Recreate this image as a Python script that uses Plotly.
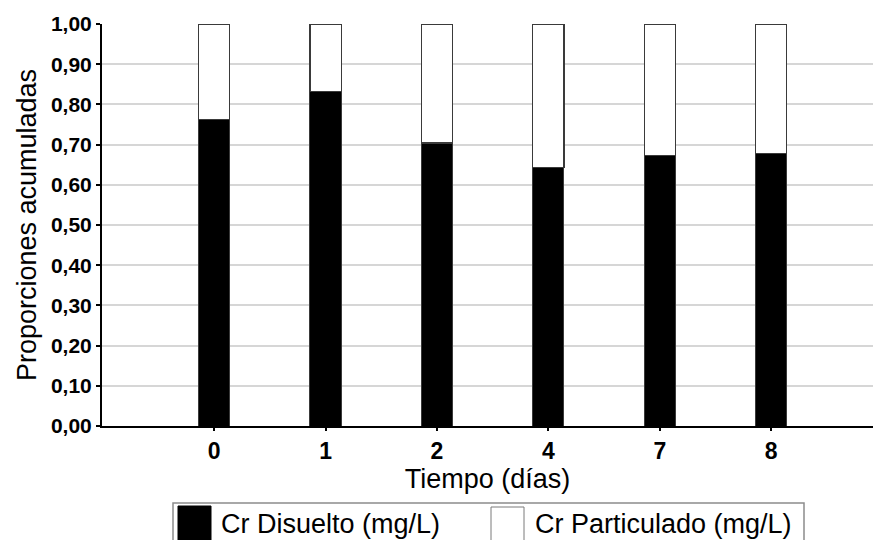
import plotly.graph_objects as go

# Data: cumulative proportions of dissolved vs particulate Cr over time
dias = ["0", "1", "2", "4", "7", "8"]
cr_disuelto = [0.763, 0.832, 0.704, 0.644, 0.672, 0.677]
cr_particulado = [round(1 - v, 3) for v in cr_disuelto]
y_ticks = [i / 10 for i in range(11)]

W, H = 873, 540
ML, MR, MT, MB = 102, 0, 24, 114
PW, PH = W - ML - MR, H - MT - MB

FONT = "Liberation Sans, Arial, sans-serif"


def px_x(x):
    return (x - ML) / PW


def px_y(y):
    return (H - MB - y) / PH


fig = go.Figure()
fig.add_trace(go.Bar(
    x=dias, y=cr_disuelto, name="Cr Disuelto (mg/L)",
    marker=dict(color="black", line=dict(color="#3a3a3a", width=1)),
    width=0.28, showlegend=False,
))
fig.add_trace(go.Bar(
    x=dias, y=cr_particulado, name="Cr Particulado (mg/L)",
    marker=dict(color="white", line=dict(color="#3a3a3a", width=1.2)),
    width=0.28, showlegend=False,
))

# Legend box drawn below the plot
shapes = [
    dict(type="rect", xref="paper", yref="paper",
         x0=px_x(173), x1=px_x(804), y0=px_y(503), y1=px_y(548),
         line=dict(color="#8c8c8c", width=1.5), fillcolor="white", layer="above"),
    dict(type="rect", xref="paper", yref="paper",
         x0=px_x(178), x1=px_x(211), y0=px_y(506), y1=px_y(548),
         line=dict(color="black", width=1), fillcolor="black", layer="above"),
    dict(type="rect", xref="paper", yref="paper",
         x0=px_x(491), x1=px_x(524), y0=px_y(507), y1=px_y(548),
         line=dict(color="#7a7a7a", width=1), fillcolor="white", layer="above"),
]
annotations = [
    dict(text="Cr Disuelto (mg/L)", xref="paper", yref="paper",
         x=px_x(219), y=px_y(524), xanchor="left", yanchor="middle",
         showarrow=False, font=dict(family=FONT, size=27, color="black")),
    dict(text="Cr Particulado (mg/L)", xref="paper", yref="paper",
         x=px_x(533), y=px_y(524), xanchor="left", yanchor="middle",
         showarrow=False, font=dict(family=FONT, size=27, color="black")),
]

fig.update_layout(
    barmode="stack",
    width=W, height=H,
    margin=dict(l=ML, r=MR, t=MT, b=MB, pad=0),
    paper_bgcolor="white", plot_bgcolor="white",
    separators=",.",
    font=dict(family=FONT, color="black"),
    shapes=shapes,
    annotations=annotations,
    xaxis=dict(
        type="category", range=[-1.007, 5.914],
        showline=True, linecolor="black", linewidth=2,
        ticks="outside", ticklen=3, tickcolor="black", tickwidth=1.5,
        tickfont=dict(family=FONT, size=23, color="black", weight="bold"),
        title=dict(text="Tiempo (días)", font=dict(family=FONT, size=27), standoff=0),
        showgrid=False, zeroline=False,
    ),
    yaxis=dict(
        range=[0, 1.0], tickvals=y_ticks, tickformat=".2f",
        showline=True, linecolor="black", linewidth=2,
        ticks="outside", ticklen=4, tickcolor="black", tickwidth=1.5,
        tickfont=dict(family=FONT, size=21, color="black", weight="bold"),
        title=dict(text="Proporciones acumuladas", font=dict(family=FONT, size=27), standoff=6),
        showgrid=True, gridcolor="#d6d6d6", gridwidth=1.5,
        zeroline=False,
    ),
)

fig.write_html("out.html")
